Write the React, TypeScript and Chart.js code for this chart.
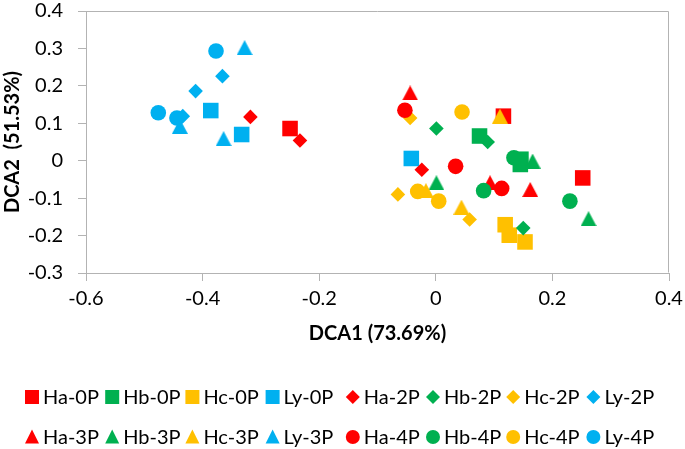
import React, { useEffect, useRef } from "react";
import { Chart, registerables } from "chart.js";

Chart.register(...registerables);

// ---- data ----
const seriesNames = [
  "Ha-0P", "Hb-0P", "Hc-0P", "Ly-0P",
  "Ha-2P", "Hb-2P", "Hc-2P", "Ly-2P",
  "Ha-3P", "Hb-3P", "Hc-3P", "Ly-3P",
  "Ha-4P", "Hb-4P", "Hc-4P", "Ly-4P",
];

const ha0P = [[-0.25, 0.086], [0.116, 0.119], [0.252, -0.046]];
const hb0P = [[0.075, 0.066], [0.146, 0.004], [0.145, -0.01]];
const hc0P = [[0.119, -0.171], [0.126, -0.199], [0.153, -0.217]];
const ly0P = [[-0.386, 0.134], [-0.333, 0.07], [-0.042, 0.006]];

const ha2P = [[-0.318, 0.117], [-0.233, 0.054], [-0.024, -0.024]];
const hb2P = [[0.001, 0.086], [0.089, 0.05], [0.15, -0.18]];
const hc2P = [[-0.044, 0.114], [-0.065, -0.09], [0.058, -0.157]];
const ly2P = [[-0.366, 0.226], [-0.412, 0.186], [-0.434, 0.119]];

const ha3P = [[-0.044, 0.181], [0.093, -0.059], [0.162, -0.077]];
const hb3P = [[0.001, -0.059], [0.166, -0.001], [0.262, -0.155]];
const hc3P = [[0.11, 0.119], [-0.017, -0.08], [0.044, -0.124]];
const ly3P = [[-0.328, 0.302], [-0.439, 0.092], [-0.364, 0.059]];

const ha4P = [[-0.053, 0.135], [0.034, -0.015], [0.113, -0.074]];
const hb4P = [[0.134, 0.008], [0.082, -0.08], [0.23, -0.108]];
const hc4P = [[0.045, 0.13], [-0.031, -0.082], [0.005, -0.108]];
const ly4P = [[-0.377, 0.293], [-0.476, 0.128], [-0.444, 0.114]];

const seriesData = [
  ha0P, hb0P, hc0P, ly0P,
  ha2P, hb2P, hc2P, ly2P,
  ha3P, hb3P, hc3P, ly3P,
  ha4P, hb4P, hc4P, ly4P,
];

const xTitle = "DCA1 (73.69%)";
const yTitle = "DCA2  (51.53%)";

// ---- styles ----
const palette = ["#FF0000", "#00B050", "#FFC000", "#00B0F0"];
const shapes = ["rect", "rectRot", "triangle", "circle"];
const shapeRadius: Record<string, number> = { rect: 11, rectRot: 7.3, triangle: 9.3, circle: 7.8 };
const FONT = "Lato, 'Open Sans', sans-serif";
const AXIS_GRAY = "#b3b3b3";

// triangle marker centred on its bounding box (as in the reference)
function makeTriangle(color: string) {
  const c = document.createElement("canvas");
  c.width = 16;
  c.height = 15;
  const g = c.getContext("2d")!;
  g.fillStyle = color;
  g.beginPath();
  g.moveTo(8, 0);
  g.lineTo(16, 15);
  g.lineTo(0, 15);
  g.closePath();
  g.fill();
  return c;
}

function drawLegendMarker(ctx: CanvasRenderingContext2D, shape: string, x: number, y: number) {
  ctx.beginPath();
  if (shape === "rect") {
    ctx.rect(x - 7, y - 7, 14, 14);
  } else if (shape === "rectRot") {
    ctx.moveTo(x - 7, y);
    ctx.lineTo(x, y - 7);
    ctx.lineTo(x + 7, y);
    ctx.lineTo(x, y + 7);
    ctx.closePath();
  } else if (shape === "triangle") {
    ctx.moveTo(x, y - 7.5);
    ctx.lineTo(x + 7, y + 6.5);
    ctx.lineTo(x - 7, y + 6.5);
    ctx.closePath();
  } else {
    ctx.arc(x, y, 7, 0, Math.PI * 2);
  }
  ctx.fill();
}

const boxPlugin = {
  id: "plotBox",
  beforeDatasetsDraw(chart: any) {
    const { ctx, chartArea } = chart;
    const l = Math.round(chartArea.left) + 0.5;
    const r = Math.round(chartArea.right) - 0.5;
    const t = Math.round(chartArea.top) + 0.5;
    const b = Math.round(chartArea.bottom) - 0.5;
    ctx.save();
    ctx.strokeStyle = AXIS_GRAY;
    ctx.lineWidth = 1;
    ctx.beginPath();
    ctx.moveTo(l, t);
    ctx.lineTo(r, t);
    ctx.lineTo(r, b);
    ctx.stroke();
    ctx.restore();
  },
};

const legendPlugin = {
  id: "gridLegend",
  afterDraw(chart: any) {
    const ctx: CanvasRenderingContext2D = chart.ctx;
    ctx.save();
    ctx.font = `20px ${FONT}`;
    ctx.textBaseline = "middle";
    ctx.textAlign = "left";
    seriesNames.forEach((name, k) => {
      const row = Math.floor(k / 8);
      const col = k % 8;
      const mx = 32 + 80.2 * col;
      const my = 397 + 40 * row;
      ctx.fillStyle = palette[k % 4];
      drawLegendMarker(ctx, shapes[Math.floor(k / 4)], mx, my);
      ctx.fillStyle = "#000";
      ctx.fillText(name, mx + 11, my + 1);
    });
    ctx.restore();
  },
};

function fmt(v: number) {
  const n = Number(Number(v).toFixed(1));
  return n === 0 ? "0" : String(n);
}

export default function App() {
  const ref = useRef<HTMLCanvasElement | null>(null);

  useEffect(() => {
    if (!ref.current) return;
    const datasets = seriesNames.map((name, i) => {
      const shape = shapes[Math.floor(i / 4)];
      const color = palette[i % 4];
      return {
        label: name,
        data: seriesData[i].map(([x, y]) => ({ x, y })),
        pointStyle: shape === "triangle" ? makeTriangle(color) : shape,
        pointRadius: shapeRadius[shape],
        pointBackgroundColor: color,
        pointBorderColor: color,
        pointBorderWidth: 0,
        showLine: false,
        order: -i,
      };
    });

    const chart = new Chart(ref.current, {
      type: "scatter",
      data: { datasets } as any,
      plugins: [boxPlugin, legendPlugin],
      options: {
        responsive: false,
        animation: false,
        events: [],
        layout: { padding: { top: 10, right: 16, left: 0, bottom: 0 } },
        plugins: {
          legend: { display: false },
          tooltip: { enabled: false },
        },
        scales: {
          x: {
            type: "linear",
            min: -0.6,
            max: 0.4,
            ticks: {
              stepSize: 0.2,
              padding: 6,
              color: "#000",
              font: { family: FONT, size: 20 },
              callback: (v: any) => fmt(v),
            },
            grid: {
              drawOnChartArea: false,
              drawTicks: true,
              tickLength: 8,
              color: AXIS_GRAY,
            },
            border: { display: true, color: AXIS_GRAY, width: 1 },
            title: {
              display: true,
              text: xTitle,
              color: "#000",
              font: { family: FONT, size: 20, weight: "bold" },
              padding: { top: 0, bottom: 103 },
            },
            afterFit: (scale: any) => {
              scale.height = 176;
              scale.paddingLeft = 0;
              scale.paddingRight = 0;
            },
          },
          y: {
            type: "linear",
            min: -0.3,
            max: 0.4,
            ticks: {
              stepSize: 0.1,
              padding: 15,
              color: "#000",
              font: { family: FONT, size: 20 },
              callback: (v: any) => fmt(v),
            },
            grid: {
              drawOnChartArea: false,
              drawTicks: true,
              tickLength: 8,
              color: AXIS_GRAY,
            },
            border: { display: true, color: AXIS_GRAY, width: 1 },
            title: {
              display: true,
              text: yTitle,
              color: "#000",
              font: { family: FONT, size: 20, weight: "bold" },
              padding: { top: 1, bottom: 0 },
            },
            afterFit: (scale: any) => {
              scale.width = 86;
              scale.paddingTop = 0;
              scale.paddingBottom = 0;
            },
          },
        },
      } as any,
    });
    return () => chart.destroy();
  }, []);

  return (
    <div style={{ position: "absolute", left: 0, top: 0, width: 685, height: 449, background: "#fff" }}>
      <canvas ref={ref} width={685} height={449} style={{ display: "block" }} />
    </div>
  );
}
